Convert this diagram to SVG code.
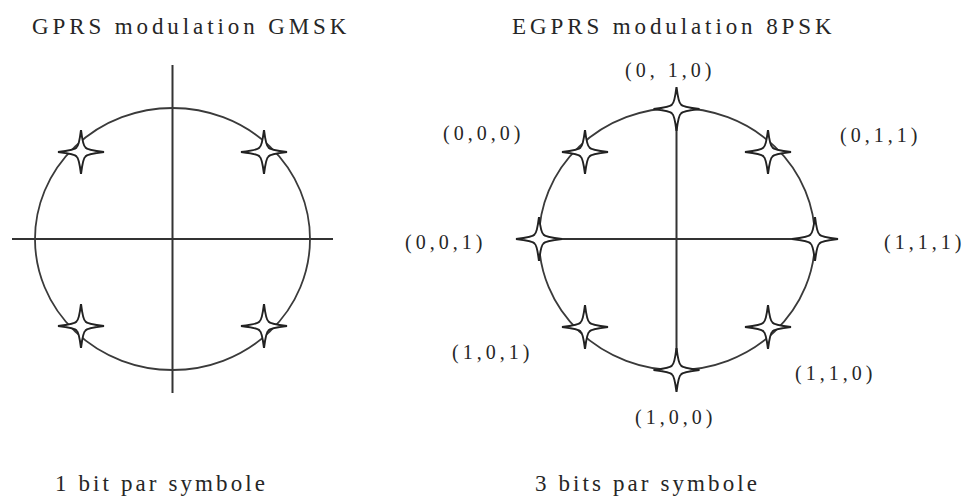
<svg xmlns="http://www.w3.org/2000/svg" xmlns:xlink="http://www.w3.org/1999/xlink" width="966" height="497" viewBox="0 0 966 497">
<style>
.ax{stroke:#333;stroke-width:2;fill:none}
.circ{stroke:#3a3a3a;stroke-width:1.8;fill:none}
.star{fill:#fff;stroke:#222;stroke-width:2;stroke-linejoin:miter}
.tt{font-family:"Liberation Serif",serif;font-size:23px;letter-spacing:3.9px;fill:#262626}
.bt{font-family:"Liberation Serif",serif;font-size:23px;letter-spacing:3.1px;fill:#262626}
.lb{font-family:"Liberation Serif",serif;font-size:20px;letter-spacing:4px;fill:#262626}
</style>
<defs>
<path id="star" d="M0,-22 Q2,-6 4.5,-4.5 Q6,-2 23,0 Q6,2 4.5,4.5 Q2,6 0,22 Q-2,6 -4.5,4.5 Q-6,2 -23,0 Q-6,-2 -4.5,-4.5 Q-2,-6 0,-22Z"/>
</defs>
<rect width="966" height="497" fill="#fff"/>

<g id="gmsk">
<text class="tt" x="32" y="34">GPRS modulation GMSK</text>
<g id="gmsk-connectors">
<line class="ax" x1="12" y1="239" x2="333" y2="239"/>
<line class="ax" x1="172.5" y1="65" x2="172.5" y2="393"/>
<ellipse class="circ" cx="172.5" cy="239" rx="137.5" ry="131"/>
</g>
<g id="gmsk-s1"><use class="star" href="#star" x="81" y="152"/></g>
<g id="gmsk-s2"><use class="star" href="#star" x="264" y="152"/></g>
<g id="gmsk-s3"><use class="star" href="#star" x="81" y="326"/></g>
<g id="gmsk-s4"><use class="star" href="#star" x="264" y="326"/></g>
<text class="bt" x="55" y="491">1 bit par symbole</text>
</g>

<g id="psk">
<text class="tt" x="512" y="34">EGPRS modulation 8PSK</text>
<g id="psk-connectors">
<line class="ax" x1="539" y1="239" x2="815" y2="239"/>
<line class="ax" x1="676.5" y1="108" x2="676.5" y2="370"/>
<ellipse class="circ" cx="677" cy="239" rx="138" ry="131"/>
</g>
<g id="s010"><use class="star" href="#star" x="676.5" y="109"/><text class="lb" x="625" y="77">(0, 1,0)</text></g>
<g id="s000"><use class="star" href="#star" x="585" y="152"/><text class="lb" x="443" y="140">(0,0,0)</text></g>
<g id="s011"><use class="star" href="#star" x="768" y="152"/><text class="lb" x="840" y="142">(0,1,1)</text></g>
<g id="s001"><use class="star" href="#star" x="539" y="239"/><text class="lb" x="405" y="249">(0,0,1)</text></g>
<g id="s111"><use class="star" href="#star" x="815" y="239"/><text class="lb" x="884" y="249">(1,1,1)</text></g>
<g id="s101"><use class="star" href="#star" x="585" y="327"/><text class="lb" x="452" y="359">(1,0,1)</text></g>
<g id="s110"><use class="star" href="#star" x="768" y="327"/><text class="lb" x="795" y="380">(1,1,0)</text></g>
<g id="s100"><use class="star" href="#star" x="676.5" y="370"/><text class="lb" x="635" y="424">(1,0,0)</text></g>
<text class="bt" x="535" y="491">3 bits par symbole</text>
</g>
</svg>
